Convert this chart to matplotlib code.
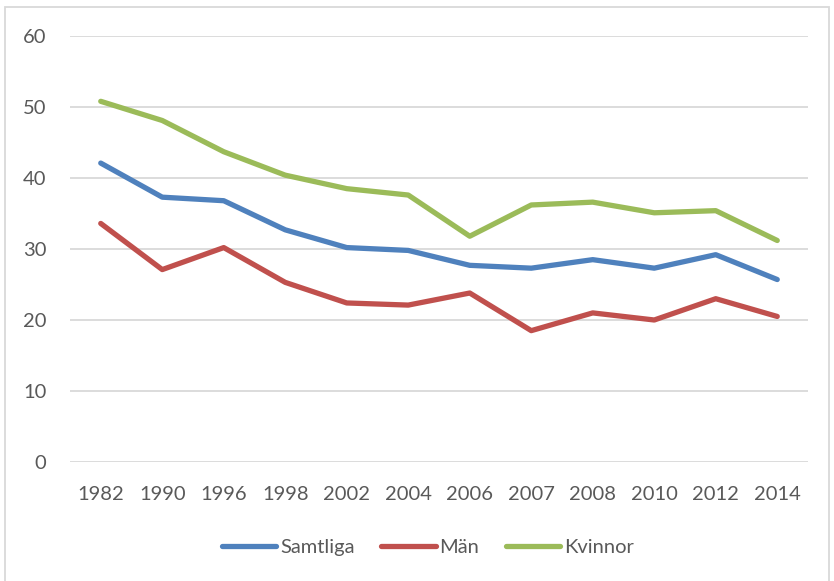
import numpy as np
import matplotlib
matplotlib.use("Agg")
import matplotlib.pyplot as plt
from matplotlib.patches import Rectangle

# data
years = ["1982", "1990", "1996", "1998", "2002", "2004",
         "2006", "2007", "2008", "2010", "2012", "2014"]
samtliga = [42.1, 37.3, 36.8, 32.7, 30.2, 29.8, 27.7, 27.3, 28.5, 27.3, 29.2, 25.7]
man = [33.6, 27.1, 30.2, 25.3, 22.4, 22.1, 23.8, 18.5, 21.0, 20.0, 23.0, 20.5]
kvinnor = [50.8, 48.1, 43.7, 40.4, 38.5, 37.6, 31.8, 36.2, 36.6, 35.1, 35.4, 31.2]
yticks = [0, 10, 20, 30, 40, 50, 60]

plt.rcParams['font.family'] = ['Lato', 'DejaVu Sans']
text_col = '#595959'

fig = plt.figure(figsize=(8.34, 5.81), dpi=100)
ax = fig.add_axes([70 / 834, 1 - 462 / 581, 738 / 834, 426 / 581])

x = np.arange(len(years))
ax.plot(x, samtliga, color='#4F81BD', lw=3.8, solid_capstyle='round', label='Samtliga')
ax.plot(x, man, color='#C0504D', lw=3.8, solid_capstyle='round', label='Män')
ax.plot(x, kvinnor, color='#9BBB59', lw=3.8, solid_capstyle='round', label='Kvinnor')

ax.set_xlim(-0.5, len(years) - 0.5)
ax.set_ylim(0, 60)
ax.set_yticks(yticks)
ax.set_xticks(x)
ax.set_xticklabels(years)
ax.grid(axis='y', color='#D9D9D9', lw=1.3)
ax.set_axisbelow(True)
for s in ax.spines.values():
    s.set_visible(False)
ax.tick_params(axis='both', length=0, labelsize=14.5, colors=text_col)
ax.tick_params(axis='y', pad=17)
ax.tick_params(axis='x', pad=17)

leg = fig.legend(loc='center', bbox_to_anchor=(428 / 834, 1 - 547 / 581), ncol=3,
                 frameon=False, fontsize=14.5, handlelength=2.7, handletextpad=0.2,
                 columnspacing=1.3)
for t in leg.get_texts():
    t.set_color(text_col)

# outer chart border
fig.patches.append(Rectangle((5 / 834, -0.05), 824 / 834, 1.05 - 7 / 581,
                             transform=fig.transFigure, fill=False,
                             edgecolor='#D9D9D9', lw=1.3))

fig.savefig('out.png', dpi=100)
